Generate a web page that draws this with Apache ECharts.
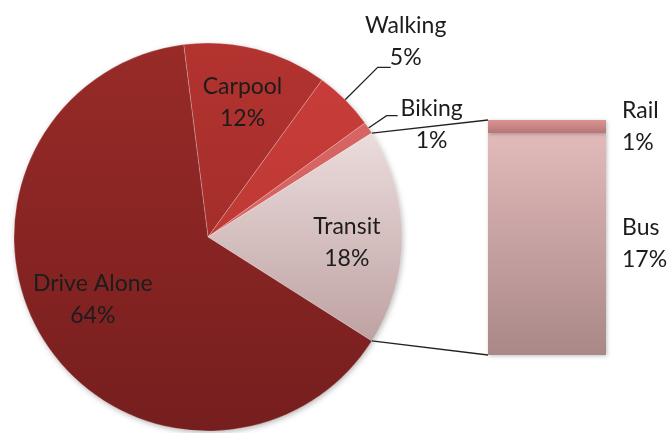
<!DOCTYPE html>
<html><head><meta charset="utf-8">
<script src="https://cdn.jsdelivr.net/npm/echarts@6/dist/echarts.min.js"></script>
<style>html,body{margin:0;padding:0;background:#fff}#c{width:668px;height:433px}</style>
</head><body><div id="c"></div>
<script>
// ---- data ----
const pieCategories = ['Carpool', 'Walking', 'Biking', 'Transit', 'Drive Alone'];
const pieValues = [12, 5, 1, 18, 64];
const splitCategory = 'Transit';
const barCategories = ['Bus', 'Rail'];
const barValues = [17, 1];

// ---- style ----
const FONT = 'Lato';
const TEXT = '#1c1c1c';
const CX = 208, CY = 237, R = 194;
const GRID = {left: 488, top: 120, width: 118, height: 235};
function lg(a, b) { return {type: 'linear', x: 0, y: 0, x2: 0, y2: 1, colorStops: [{offset: 0, color: a}, {offset: 1, color: b}]}; }
const pieColors = {
  'Carpool': lg('#b3332f', '#a42e2b'),
  'Walking': lg('#c73c38', '#bf3935'),
  'Biking': '#d56463',
  'Transit': lg('#ecdcdc', '#bea2a2'),
  'Drive Alone': lg('#982b28', '#761e1e')
};
const barColors = {'Bus': lg('#e2baba', '#aa8888'), 'Rail': lg('#dc9393', '#b57777')};
const insideLabelShift = {'Carpool': [0, 0], 'Transit': [0, 3], 'Drive Alone': [1, -6]};
const outsideLabelStyle = {
  'Walking': {line: [46, 13], off: [15, -26]},
  'Biking': {line: [22, 11], off: [34, 9]}
};

const total = pieValues.reduce((a, b) => a + b, 0);
const splitIdx = pieCategories.indexOf(splitCategory);
let before = 0;
for (let i = 0; i < splitIdx; i++) before += pieValues[i];
const startAngle = 360 * (before + pieValues[splitIdx] / 2) / total;

const mainData = pieCategories.map((n, i) => {
  const o = outsideLabelStyle[n];
  return {
    name: n, value: pieValues[i],
    itemStyle: {color: pieColors[n]},
    label: {show: !!o},
    labelLine: o ? {show: true, length: o.line[0], length2: o.line[1]} : {show: false}
  };
});
const labelData = pieCategories.map((n, i) => ({
  name: n, value: pieValues[i],
  label: {show: !!insideLabelShift[n]}
}));

const labelFont = {fontFamily: FONT, fontSize: 23, lineHeight: 32, color: TEXT};

const chart = echarts.init(document.getElementById('c'), null, {renderer: 'canvas'});
const option = {
  animation: false,
  backgroundColor: '#ffffff',
  grid: {left: GRID.left, top: GRID.top, width: GRID.width, height: GRID.height},
  xAxis: {type: 'category', data: [splitCategory], show: false},
  yAxis: {type: 'value', min: 0, max: pieValues[splitIdx], show: false},
  series: [
    {
      type: 'pie', center: [CX, CY], radius: [0, R], startAngle: startAngle, clockwise: true,
      avoidLabelOverlap: false, silent: true,
      itemStyle: {borderColor: 'rgba(255,255,255,0.35)', borderWidth: 0.6},
      label: Object.assign({position: 'outside', formatter: '{b}\n{c}%', alignTo: 'none'}, labelFont),
      labelLine: {lineStyle: {color: '#222', width: 1.3}},
      labelLayout: function (p) {
        const n = pieCategories[p.dataIndex];
        const o = outsideLabelStyle[n];
        if (!o || !p.labelLinePoints) return {};
        const e = p.labelLinePoints[p.labelLinePoints.length - 1];
        return {x: e[0] + o.off[0], y: e[1] + o.off[1], align: 'center', verticalAlign: 'middle', labelLinePoints: p.labelLinePoints};
      },
      data: mainData
    },
    {
      type: 'pie', center: [CX, CY], radius: [0, R * 1.4], startAngle: startAngle, clockwise: true,
      silent: true, z: 3,
      itemStyle: {color: 'rgba(0,0,0,0)', borderWidth: 0},
      label: Object.assign({position: 'inside', formatter: '{b}\n{c}%', align: 'center'}, labelFont),
      labelLine: {show: false},
      labelLayout: function (p) {
        const s = insideLabelShift[pieCategories[p.dataIndex]];
        return s ? {dx: s[0], dy: s[1]} : {};
      },
      data: labelData
    }
  ].concat(barCategories.map((n, i) => ({
    type: 'bar', name: n, stack: 'split', barWidth: '100%', silent: true,
    itemStyle: {color: barColors[n], shadowBlur: 4, shadowColor: 'rgba(0,0,0,0.25)', shadowOffsetX: 1, shadowOffsetY: 1},
    label: Object.assign({show: true, position: 'right', distance: 16, formatter: '{a}\n{c}%'}, labelFont),
    data: [barValues[i]]
  })))
};
chart.setOption(option);

// connector lines from the split slice to the bar
const a1 = (startAngle - 360 * before / total) * Math.PI / 180;
const a2 = (startAngle - 360 * (before + pieValues[splitIdx]) / total) * Math.PI / 180;
const pTop = chart.convertToPixel({xAxisIndex: 0, yAxisIndex: 0}, [0, pieValues[splitIdx]]);
const pBot = chart.convertToPixel({xAxisIndex: 0, yAxisIndex: 0}, [0, 0]);
const barLeft = pTop[0] - GRID.width / 2;
chart.setOption({
  graphic: [
    {type: 'circle', z: 0, shape: {cx: CX, cy: CY, r: R - 1}, style: {fill: '#fff', shadowBlur: 6, shadowColor: 'rgba(0,0,0,0.35)', shadowOffsetX: 1, shadowOffsetY: 2}, silent: true},
    {type: 'line', z: 10, shape: {x1: CX + R * Math.cos(a1), y1: CY - R * Math.sin(a1), x2: barLeft, y2: pTop[1]}, style: {stroke: '#222', lineWidth: 1.3}, silent: true},
    {type: 'line', z: 10, shape: {x1: CX + R * Math.cos(a2), y1: CY - R * Math.sin(a2), x2: barLeft, y2: pBot[1]}, style: {stroke: '#222', lineWidth: 1.3}, silent: true}
  ]
});
</script></body></html>
